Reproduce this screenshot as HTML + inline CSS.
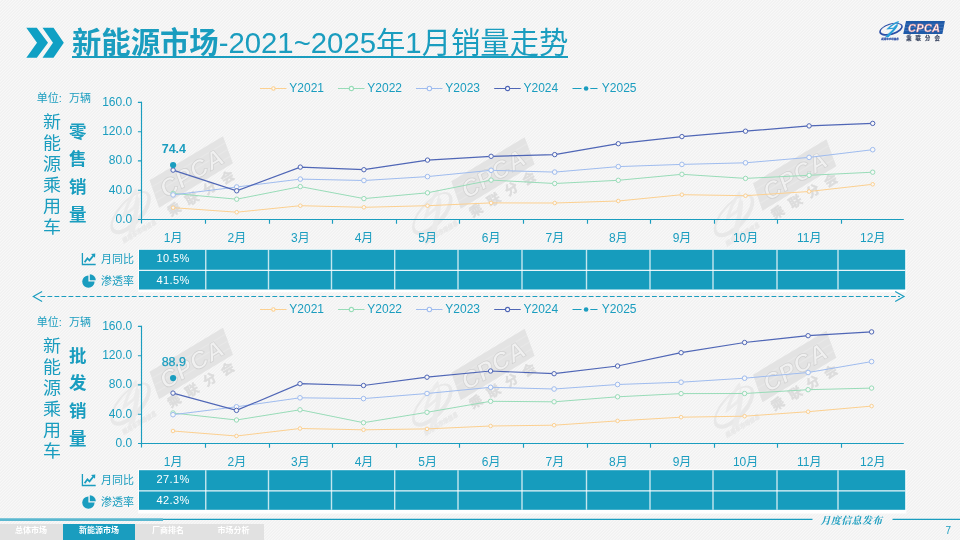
<!DOCTYPE html>
<html lang="zh-CN"><head><meta charset="utf-8"><title>新能源市场-2021~2025年1月销量走势</title>
<style>
html,body{margin:0;padding:0}
body{width:960px;height:540px;overflow:hidden;position:relative;font-family:"Liberation Sans","Noto Sans CJK SC",sans-serif;
background:#f4f4f4;}
#main{position:absolute;left:0;top:0;width:960px;height:540px;font-family:"Liberation Sans","Noto Sans CJK SC",sans-serif}
.title{position:absolute;left:72px;top:22.5px;height:33.5px;line-height:40px;font-size:29.33px;color:#1a9dbf;white-space:nowrap;border-bottom:2px solid #1a9dbf}
.title b{font-weight:bold}
.navbg{position:absolute;left:0;top:524px;width:264px;height:16px;background:#e1e1e1}
.nav{position:absolute;top:524px;height:16px;line-height:13px;font-size:8px;font-weight:bold;color:#fff;text-align:center;white-space:nowrap}
.nav.on{background:#1a9dbf}
.foot{position:absolute;left:820.5px;top:514px;line-height:14px;font-family:"Liberation Serif","Noto Serif CJK SC",serif;font-style:italic;font-weight:bold;font-size:10px;color:#1a9dbf;letter-spacing:0.35px;white-space:nowrap}
.vt{position:absolute;writing-mode:vertical-rl;font-size:17px;line-height:17px;width:17px;color:#1a9dbf;white-space:nowrap;transform-origin:0 0}
.pg{position:absolute;left:945.5px;top:525px;line-height:12px;font-size:10px;color:#1a9dbf}
</style></head><body>
<svg id="main" width="960" height="540" viewBox="0 0 960 540">
<defs><pattern id="bg" width="3" height="3" patternUnits="userSpaceOnUse" shape-rendering="crispEdges">
<rect width="3" height="3" fill="#f4f4f4"/>
<path d="M0 0h1v1h-1zM2 1h1v1h-1zM1 2h1v1h-1z" fill="#f8f8f8"/>
<path d="M2 0h1v1h-1zM1 1h1v1h-1zM0 2h1v1h-1z" fill="#f1f1f1"/>
</pattern></defs>
<rect width="960" height="540" fill="url(#bg)"/>
<path d="M26.3 27.8H36.8L48 42.8 36.8 57.8H26.3L37 42.8Z" fill="#0fa0c4"/>
<path d="M42.5 27.8H53.5L63.8 42.8 53.5 57.8H42.5L53 42.8Z" fill="#0fa0c4"/>
<g transform="translate(93.7 211.0) rotate(-31) scale(2.2)">
<path d="M29 1.1H67.9L65.4 14H26.25Z" fill="#e3e3e3"/>
<path d="M28.5 4.2H67.2M27.8 7.4H66.6M27.2 10.6H66" stroke="#e8e8e8" stroke-width="0.5" fill="none"/>
<text x="31" y="11.9" font-size="11" font-style="italic" font-weight="bold" letter-spacing="0.3" fill="#f0f0f0" stroke="#d0d0d0" stroke-width="0.3">CPCA</text>
<text x="28.8" y="20.3" font-size="5.9" font-weight="bold" letter-spacing="3.5" fill="#dcdcdc" stroke="#dcdcdc" stroke-width="0.2">乘联分会</text>
<path transform="rotate(-17 14 9.3)" fill-rule="evenodd" d="M1.8 9.3a12.2 5.7 0 1 0 24.4 0a12.2 5.7 0 1 0 -24.4 0ZM3.5 8.8a10.7 4.3 0 1 0 21.4 0a10.7 4.3 0 1 0 -21.4 0Z" fill="#e8e8e8"/>
<path d="M21.9 1C17.5 2.2 12.5 6 9.2 9.6L17.6 8.7L17.9 7.4L12.8 8C15.5 5.6 18.6 3.6 21.4 2.6C19.8 4.6 18 6.3 16.3 7.6L18.4 7.6C20.2 5.8 21.6 3.6 21.9 1Z" fill="#ebebeb"/>
<path d="M19.2 4.8C17 9 12.5 12.5 7.8 17.3L11.6 17.3C15 12.8 19 9.5 21 5.5Z" fill="#ebebeb"/>
<text x="4" y="19.6" font-size="2.8" font-style="italic" font-weight="bold" fill="#e8e8e8" stroke="#e8e8e8" stroke-width="0.15" textLength="17.6" lengthAdjust="spacingAndGlyphs">乘用车市场信息</text>
</g>
<g transform="translate(395.4 212.0) rotate(-31) scale(2.2)">
<path d="M29 1.1H67.9L65.4 14H26.25Z" fill="#e3e3e3"/>
<path d="M28.5 4.2H67.2M27.8 7.4H66.6M27.2 10.6H66" stroke="#e8e8e8" stroke-width="0.5" fill="none"/>
<text x="31" y="11.9" font-size="11" font-style="italic" font-weight="bold" letter-spacing="0.3" fill="#f0f0f0" stroke="#d0d0d0" stroke-width="0.3">CPCA</text>
<text x="28.8" y="20.3" font-size="5.9" font-weight="bold" letter-spacing="3.5" fill="#dcdcdc" stroke="#dcdcdc" stroke-width="0.2">乘联分会</text>
<path transform="rotate(-17 14 9.3)" fill-rule="evenodd" d="M1.8 9.3a12.2 5.7 0 1 0 24.4 0a12.2 5.7 0 1 0 -24.4 0ZM3.5 8.8a10.7 4.3 0 1 0 21.4 0a10.7 4.3 0 1 0 -21.4 0Z" fill="#e8e8e8"/>
<path d="M21.9 1C17.5 2.2 12.5 6 9.2 9.6L17.6 8.7L17.9 7.4L12.8 8C15.5 5.6 18.6 3.6 21.4 2.6C19.8 4.6 18 6.3 16.3 7.6L18.4 7.6C20.2 5.8 21.6 3.6 21.9 1Z" fill="#ebebeb"/>
<path d="M19.2 4.8C17 9 12.5 12.5 7.8 17.3L11.6 17.3C15 12.8 19 9.5 21 5.5Z" fill="#ebebeb"/>
<text x="4" y="19.6" font-size="2.8" font-style="italic" font-weight="bold" fill="#e8e8e8" stroke="#e8e8e8" stroke-width="0.15" textLength="17.6" lengthAdjust="spacingAndGlyphs">乘用车市场信息</text>
</g>
<g transform="translate(697.1 214.0) rotate(-31) scale(2.2)">
<path d="M29 1.1H67.9L65.4 14H26.25Z" fill="#e3e3e3"/>
<path d="M28.5 4.2H67.2M27.8 7.4H66.6M27.2 10.6H66" stroke="#e8e8e8" stroke-width="0.5" fill="none"/>
<text x="31" y="11.9" font-size="11" font-style="italic" font-weight="bold" letter-spacing="0.3" fill="#f0f0f0" stroke="#d0d0d0" stroke-width="0.3">CPCA</text>
<text x="28.8" y="20.3" font-size="5.9" font-weight="bold" letter-spacing="3.5" fill="#dcdcdc" stroke="#dcdcdc" stroke-width="0.2">乘联分会</text>
<path transform="rotate(-17 14 9.3)" fill-rule="evenodd" d="M1.8 9.3a12.2 5.7 0 1 0 24.4 0a12.2 5.7 0 1 0 -24.4 0ZM3.5 8.8a10.7 4.3 0 1 0 21.4 0a10.7 4.3 0 1 0 -21.4 0Z" fill="#e8e8e8"/>
<path d="M21.9 1C17.5 2.2 12.5 6 9.2 9.6L17.6 8.7L17.9 7.4L12.8 8C15.5 5.6 18.6 3.6 21.4 2.6C19.8 4.6 18 6.3 16.3 7.6L18.4 7.6C20.2 5.8 21.6 3.6 21.9 1Z" fill="#ebebeb"/>
<path d="M19.2 4.8C17 9 12.5 12.5 7.8 17.3L11.6 17.3C15 12.8 19 9.5 21 5.5Z" fill="#ebebeb"/>
<text x="4" y="19.6" font-size="2.8" font-style="italic" font-weight="bold" fill="#e8e8e8" stroke="#e8e8e8" stroke-width="0.15" textLength="17.6" lengthAdjust="spacingAndGlyphs">乘用车市场信息</text>
</g>
<g transform="translate(93.7 402.5) rotate(-31) scale(2.2)">
<path d="M29 1.1H67.9L65.4 14H26.25Z" fill="#e3e3e3"/>
<path d="M28.5 4.2H67.2M27.8 7.4H66.6M27.2 10.6H66" stroke="#e8e8e8" stroke-width="0.5" fill="none"/>
<text x="31" y="11.9" font-size="11" font-style="italic" font-weight="bold" letter-spacing="0.3" fill="#f0f0f0" stroke="#d0d0d0" stroke-width="0.3">CPCA</text>
<text x="28.8" y="20.3" font-size="5.9" font-weight="bold" letter-spacing="3.5" fill="#dcdcdc" stroke="#dcdcdc" stroke-width="0.2">乘联分会</text>
<path transform="rotate(-17 14 9.3)" fill-rule="evenodd" d="M1.8 9.3a12.2 5.7 0 1 0 24.4 0a12.2 5.7 0 1 0 -24.4 0ZM3.5 8.8a10.7 4.3 0 1 0 21.4 0a10.7 4.3 0 1 0 -21.4 0Z" fill="#e8e8e8"/>
<path d="M21.9 1C17.5 2.2 12.5 6 9.2 9.6L17.6 8.7L17.9 7.4L12.8 8C15.5 5.6 18.6 3.6 21.4 2.6C19.8 4.6 18 6.3 16.3 7.6L18.4 7.6C20.2 5.8 21.6 3.6 21.9 1Z" fill="#ebebeb"/>
<path d="M19.2 4.8C17 9 12.5 12.5 7.8 17.3L11.6 17.3C15 12.8 19 9.5 21 5.5Z" fill="#ebebeb"/>
<text x="4" y="19.6" font-size="2.8" font-style="italic" font-weight="bold" fill="#e8e8e8" stroke="#e8e8e8" stroke-width="0.15" textLength="17.6" lengthAdjust="spacingAndGlyphs">乘用车市场信息</text>
</g>
<g transform="translate(395.4 403.5) rotate(-31) scale(2.2)">
<path d="M29 1.1H67.9L65.4 14H26.25Z" fill="#e3e3e3"/>
<path d="M28.5 4.2H67.2M27.8 7.4H66.6M27.2 10.6H66" stroke="#e8e8e8" stroke-width="0.5" fill="none"/>
<text x="31" y="11.9" font-size="11" font-style="italic" font-weight="bold" letter-spacing="0.3" fill="#f0f0f0" stroke="#d0d0d0" stroke-width="0.3">CPCA</text>
<text x="28.8" y="20.3" font-size="5.9" font-weight="bold" letter-spacing="3.5" fill="#dcdcdc" stroke="#dcdcdc" stroke-width="0.2">乘联分会</text>
<path transform="rotate(-17 14 9.3)" fill-rule="evenodd" d="M1.8 9.3a12.2 5.7 0 1 0 24.4 0a12.2 5.7 0 1 0 -24.4 0ZM3.5 8.8a10.7 4.3 0 1 0 21.4 0a10.7 4.3 0 1 0 -21.4 0Z" fill="#e8e8e8"/>
<path d="M21.9 1C17.5 2.2 12.5 6 9.2 9.6L17.6 8.7L17.9 7.4L12.8 8C15.5 5.6 18.6 3.6 21.4 2.6C19.8 4.6 18 6.3 16.3 7.6L18.4 7.6C20.2 5.8 21.6 3.6 21.9 1Z" fill="#ebebeb"/>
<path d="M19.2 4.8C17 9 12.5 12.5 7.8 17.3L11.6 17.3C15 12.8 19 9.5 21 5.5Z" fill="#ebebeb"/>
<text x="4" y="19.6" font-size="2.8" font-style="italic" font-weight="bold" fill="#e8e8e8" stroke="#e8e8e8" stroke-width="0.15" textLength="17.6" lengthAdjust="spacingAndGlyphs">乘用车市场信息</text>
</g>
<g transform="translate(697.1 405.5) rotate(-31) scale(2.2)">
<path d="M29 1.1H67.9L65.4 14H26.25Z" fill="#e3e3e3"/>
<path d="M28.5 4.2H67.2M27.8 7.4H66.6M27.2 10.6H66" stroke="#e8e8e8" stroke-width="0.5" fill="none"/>
<text x="31" y="11.9" font-size="11" font-style="italic" font-weight="bold" letter-spacing="0.3" fill="#f0f0f0" stroke="#d0d0d0" stroke-width="0.3">CPCA</text>
<text x="28.8" y="20.3" font-size="5.9" font-weight="bold" letter-spacing="3.5" fill="#dcdcdc" stroke="#dcdcdc" stroke-width="0.2">乘联分会</text>
<path transform="rotate(-17 14 9.3)" fill-rule="evenodd" d="M1.8 9.3a12.2 5.7 0 1 0 24.4 0a12.2 5.7 0 1 0 -24.4 0ZM3.5 8.8a10.7 4.3 0 1 0 21.4 0a10.7 4.3 0 1 0 -21.4 0Z" fill="#e8e8e8"/>
<path d="M21.9 1C17.5 2.2 12.5 6 9.2 9.6L17.6 8.7L17.9 7.4L12.8 8C15.5 5.6 18.6 3.6 21.4 2.6C19.8 4.6 18 6.3 16.3 7.6L18.4 7.6C20.2 5.8 21.6 3.6 21.9 1Z" fill="#ebebeb"/>
<path d="M19.2 4.8C17 9 12.5 12.5 7.8 17.3L11.6 17.3C15 12.8 19 9.5 21 5.5Z" fill="#ebebeb"/>
<text x="4" y="19.6" font-size="2.8" font-style="italic" font-weight="bold" fill="#e8e8e8" stroke="#e8e8e8" stroke-width="0.15" textLength="17.6" lengthAdjust="spacingAndGlyphs">乘用车市场信息</text>
</g>
<path d="M260 88.5h26.5" stroke="#fcd090" stroke-width="1.0"/>
<circle cx="273.4" cy="88.5" r="1.7" fill="#fbfbfb" stroke="#fcd090" stroke-width="1.1"/>
<text x="289.3" y="91.9" font-size="12" fill="#1a9dbf">Y2021</text>
<path d="M338 88.5h26.5" stroke="#98dcb8" stroke-width="1.0"/>
<circle cx="351.4" cy="88.5" r="2.1" fill="#fbfbfb" stroke="#98dcb8" stroke-width="1.1"/>
<text x="367.3" y="91.9" font-size="12" fill="#1a9dbf">Y2022</text>
<path d="M416 88.5h26.5" stroke="#9fbcef" stroke-width="1.0"/>
<circle cx="429.4" cy="88.5" r="2.1999999999999997" fill="#fbfbfb" stroke="#9fbcef" stroke-width="1.1"/>
<text x="445.3" y="91.9" font-size="12" fill="#1a9dbf">Y2023</text>
<path d="M494.2 88.5h26.5" stroke="#4f66b6" stroke-width="1.0"/>
<circle cx="507.59999999999997" cy="88.5" r="2.1" fill="#fbfbfb" stroke="#4f66b6" stroke-width="1.1"/>
<text x="523.5" y="91.9" font-size="12" fill="#1a9dbf">Y2024</text>
<path d="M572.5 88.5h9M590.3 88.5h7.2" stroke="#1a9dbf" stroke-width="1.1"/>
<circle cx="586.1" cy="88.5" r="2.3" fill="#1a9dbf"/>
<text x="601.8" y="91.9" font-size="12" fill="#1a9dbf">Y2025</text>
<path d="M141.5 101.80000000000001V223.5M138.0 219.5H903.8" fill="none" stroke="#1a9dbf" stroke-width="1.15"/>
<path d="M137.9 190.2H141.5M137.9 160.9H141.5M137.9 131.7H141.5M137.9 102.4H141.5M205.5 219.5v4.3M269.5 219.5v4.3M332.5 219.5v4.3M396.5 219.5v4.3M459.5 219.5v4.3M523.5 219.5v4.3M587.5 219.5v4.3M650.5 219.5v4.3M714.5 219.5v4.3M777.5 219.5v4.3M841.5 219.5v4.3" fill="none" stroke="#1a9dbf" stroke-width="1.15"/>
<polyline points="173.1,207.7 236.7,212.2 300.3,205.7 363.9,207.3 427.5,205.7 491.1,202.9 554.7,203.0 618.3,201.0 681.9,194.7 745.5,195.7 809.1,191.5 872.7,184.3" fill="none" stroke="#fcd090" stroke-width="1.0"/>
<circle cx="173.1" cy="207.7" r="1.8" fill="#f8f8f8" stroke="#fcd090" stroke-width="1"/>
<circle cx="236.7" cy="212.2" r="1.8" fill="#f8f8f8" stroke="#fcd090" stroke-width="1"/>
<circle cx="300.3" cy="205.7" r="1.8" fill="#f8f8f8" stroke="#fcd090" stroke-width="1"/>
<circle cx="363.9" cy="207.3" r="1.8" fill="#f8f8f8" stroke="#fcd090" stroke-width="1"/>
<circle cx="427.5" cy="205.7" r="1.8" fill="#f8f8f8" stroke="#fcd090" stroke-width="1"/>
<circle cx="491.1" cy="202.9" r="1.8" fill="#f8f8f8" stroke="#fcd090" stroke-width="1"/>
<circle cx="554.7" cy="203.0" r="1.8" fill="#f8f8f8" stroke="#fcd090" stroke-width="1"/>
<circle cx="618.3" cy="201.0" r="1.8" fill="#f8f8f8" stroke="#fcd090" stroke-width="1"/>
<circle cx="681.9" cy="194.7" r="1.8" fill="#f8f8f8" stroke="#fcd090" stroke-width="1"/>
<circle cx="745.5" cy="195.7" r="1.8" fill="#f8f8f8" stroke="#fcd090" stroke-width="1"/>
<circle cx="809.1" cy="191.5" r="1.8" fill="#f8f8f8" stroke="#fcd090" stroke-width="1"/>
<circle cx="872.7" cy="184.3" r="1.8" fill="#f8f8f8" stroke="#fcd090" stroke-width="1"/>
<polyline points="173.1,193.4 236.7,199.2 300.3,186.6 363.9,198.6 427.5,192.8 491.1,180.1 554.7,183.5 618.3,180.3 681.9,174.3 745.5,178.4 809.1,175.3 872.7,172.2" fill="none" stroke="#98dcb8" stroke-width="1.0"/>
<circle cx="173.1" cy="193.4" r="2.2" fill="#f8f8f8" stroke="#98dcb8" stroke-width="1"/>
<circle cx="236.7" cy="199.2" r="2.2" fill="#f8f8f8" stroke="#98dcb8" stroke-width="1"/>
<circle cx="300.3" cy="186.6" r="2.2" fill="#f8f8f8" stroke="#98dcb8" stroke-width="1"/>
<circle cx="363.9" cy="198.6" r="2.2" fill="#f8f8f8" stroke="#98dcb8" stroke-width="1"/>
<circle cx="427.5" cy="192.8" r="2.2" fill="#f8f8f8" stroke="#98dcb8" stroke-width="1"/>
<circle cx="491.1" cy="180.1" r="2.2" fill="#f8f8f8" stroke="#98dcb8" stroke-width="1"/>
<circle cx="554.7" cy="183.5" r="2.2" fill="#f8f8f8" stroke="#98dcb8" stroke-width="1"/>
<circle cx="618.3" cy="180.3" r="2.2" fill="#f8f8f8" stroke="#98dcb8" stroke-width="1"/>
<circle cx="681.9" cy="174.3" r="2.2" fill="#f8f8f8" stroke="#98dcb8" stroke-width="1"/>
<circle cx="745.5" cy="178.4" r="2.2" fill="#f8f8f8" stroke="#98dcb8" stroke-width="1"/>
<circle cx="809.1" cy="175.3" r="2.2" fill="#f8f8f8" stroke="#98dcb8" stroke-width="1"/>
<circle cx="872.7" cy="172.2" r="2.2" fill="#f8f8f8" stroke="#98dcb8" stroke-width="1"/>
<polyline points="173.1,194.9 236.7,187.0 300.3,179.1 363.9,180.5 427.5,176.6 491.1,170.3 554.7,172.1 618.3,166.6 681.9,164.4 745.5,162.8 809.1,157.4 872.7,149.7" fill="none" stroke="#9fbcef" stroke-width="1.0"/>
<circle cx="173.1" cy="194.9" r="2.3" fill="#f8f8f8" stroke="#9fbcef" stroke-width="1"/>
<circle cx="236.7" cy="187.0" r="2.3" fill="#f8f8f8" stroke="#9fbcef" stroke-width="1"/>
<circle cx="300.3" cy="179.1" r="2.3" fill="#f8f8f8" stroke="#9fbcef" stroke-width="1"/>
<circle cx="363.9" cy="180.5" r="2.3" fill="#f8f8f8" stroke="#9fbcef" stroke-width="1"/>
<circle cx="427.5" cy="176.6" r="2.3" fill="#f8f8f8" stroke="#9fbcef" stroke-width="1"/>
<circle cx="491.1" cy="170.3" r="2.3" fill="#f8f8f8" stroke="#9fbcef" stroke-width="1"/>
<circle cx="554.7" cy="172.1" r="2.3" fill="#f8f8f8" stroke="#9fbcef" stroke-width="1"/>
<circle cx="618.3" cy="166.6" r="2.3" fill="#f8f8f8" stroke="#9fbcef" stroke-width="1"/>
<circle cx="681.9" cy="164.4" r="2.3" fill="#f8f8f8" stroke="#9fbcef" stroke-width="1"/>
<circle cx="745.5" cy="162.8" r="2.3" fill="#f8f8f8" stroke="#9fbcef" stroke-width="1"/>
<circle cx="809.1" cy="157.4" r="2.3" fill="#f8f8f8" stroke="#9fbcef" stroke-width="1"/>
<circle cx="872.7" cy="149.7" r="2.3" fill="#f8f8f8" stroke="#9fbcef" stroke-width="1"/>
<polyline points="173.1,170.1 236.7,190.8 300.3,167.1 363.9,169.7 427.5,160.1 491.1,156.3 554.7,154.6 618.3,143.7 681.9,136.6 745.5,131.2 809.1,125.9 872.7,123.4" fill="none" stroke="#4f66b6" stroke-width="1.2"/>
<circle cx="173.1" cy="170.1" r="2.2" fill="#f8f8f8" stroke="#4f66b6" stroke-width="1"/>
<circle cx="236.7" cy="190.8" r="2.2" fill="#f8f8f8" stroke="#4f66b6" stroke-width="1"/>
<circle cx="300.3" cy="167.1" r="2.2" fill="#f8f8f8" stroke="#4f66b6" stroke-width="1"/>
<circle cx="363.9" cy="169.7" r="2.2" fill="#f8f8f8" stroke="#4f66b6" stroke-width="1"/>
<circle cx="427.5" cy="160.1" r="2.2" fill="#f8f8f8" stroke="#4f66b6" stroke-width="1"/>
<circle cx="491.1" cy="156.3" r="2.2" fill="#f8f8f8" stroke="#4f66b6" stroke-width="1"/>
<circle cx="554.7" cy="154.6" r="2.2" fill="#f8f8f8" stroke="#4f66b6" stroke-width="1"/>
<circle cx="618.3" cy="143.7" r="2.2" fill="#f8f8f8" stroke="#4f66b6" stroke-width="1"/>
<circle cx="681.9" cy="136.6" r="2.2" fill="#f8f8f8" stroke="#4f66b6" stroke-width="1"/>
<circle cx="745.5" cy="131.2" r="2.2" fill="#f8f8f8" stroke="#4f66b6" stroke-width="1"/>
<circle cx="809.1" cy="125.9" r="2.2" fill="#f8f8f8" stroke="#4f66b6" stroke-width="1"/>
<circle cx="872.7" cy="123.4" r="2.2" fill="#f8f8f8" stroke="#4f66b6" stroke-width="1"/>
<circle cx="173.1" cy="165.0" r="3.1" fill="#1a9dbf"/>
<text x="173.9" y="152.8" text-anchor="middle" font-size="12.5" font-weight="bold" fill="#1a9dbf">74.4</text>
<text x="132.2" y="222.8" text-anchor="end" font-size="12" fill="#1a9dbf">0.0</text>
<text x="132.2" y="193.5" text-anchor="end" font-size="12" fill="#1a9dbf">40.0</text>
<text x="132.2" y="164.2" text-anchor="end" font-size="12" fill="#1a9dbf">80.0</text>
<text x="132.2" y="135.0" text-anchor="end" font-size="12" fill="#1a9dbf">120.0</text>
<text x="132.2" y="105.7" text-anchor="end" font-size="12" fill="#1a9dbf">160.0</text>
<text x="173.2" y="241.8" text-anchor="middle" font-size="12" fill="#1a9dbf">1月</text>
<text x="236.8" y="241.8" text-anchor="middle" font-size="12" fill="#1a9dbf">2月</text>
<text x="300.4" y="241.8" text-anchor="middle" font-size="12" fill="#1a9dbf">3月</text>
<text x="364.0" y="241.8" text-anchor="middle" font-size="12" fill="#1a9dbf">4月</text>
<text x="427.6" y="241.8" text-anchor="middle" font-size="12" fill="#1a9dbf">5月</text>
<text x="491.2" y="241.8" text-anchor="middle" font-size="12" fill="#1a9dbf">6月</text>
<text x="554.8" y="241.8" text-anchor="middle" font-size="12" fill="#1a9dbf">7月</text>
<text x="618.4" y="241.8" text-anchor="middle" font-size="12" fill="#1a9dbf">8月</text>
<text x="682.0" y="241.8" text-anchor="middle" font-size="12" fill="#1a9dbf">9月</text>
<text x="745.6" y="241.8" text-anchor="middle" font-size="12" fill="#1a9dbf">10月</text>
<text x="809.2" y="241.8" text-anchor="middle" font-size="12" fill="#1a9dbf">11月</text>
<text x="872.8" y="241.8" text-anchor="middle" font-size="12" fill="#1a9dbf">12月</text>
<rect x="138.2" y="248.9" width="768.2" height="43.4" fill="#ffffff"/>
<rect x="139" y="249.8" width="766.2" height="39.7" fill="#169cbd"/>
<path d="M139 270.4H905.2" stroke="#fff" stroke-opacity="0.9" stroke-width="1.4"/>
<path d="M205.75 249.8V289.5M268.5 249.8V289.5M331.5 249.8V289.5M394.7 249.8V289.5M458 249.8V289.5M522 249.8V289.5M586.5 249.8V289.5M650 249.8V289.5M713 249.8V289.5M777 249.8V289.5M838 249.8V289.5" stroke="#fff" stroke-opacity="0.75" stroke-width="1.4" fill="none"/>
<text x="173.1" y="262" text-anchor="middle" font-size="11" letter-spacing="0.35" fill="#fff">10.5%</text>
<text x="173.1" y="284.2" text-anchor="middle" font-size="11" letter-spacing="0.35" fill="#fff">41.5%</text>
<path d="M82.4 253.1V264.5H95.7" fill="none" stroke="#1a9dbf" stroke-width="1.3"/>
<path d="M84.6 262.3L87.4 258.4 89.5 260.4 93.4 255.5" fill="none" stroke="#1a9dbf" stroke-width="1.7"/>
<path d="M91 253.9L95.3 253.5L95 257.8Z" fill="#1a9dbf"/>
<text x="101" y="262.9" font-size="11" fill="#1a9dbf">月同比</text>
<path d="M88.4 275.40000000000003A6.2 6.2 0 1 0 94.6 281.6H88.4Z" fill="#1a9dbf"/>
<path d="M89.8 274.20000000000005A6 6 0 0 1 95.8 280.20000000000005H89.8Z" fill="#1a9dbf"/>
<text x="101" y="284.8" font-size="11" fill="#1a9dbf">渗透率</text>
<text x="36.8" y="101.9" font-size="11" fill="#1a9dbf">单位: <tspan x="69">万辆</tspan></text>
<path d="M40.4 296.5H900" stroke="#1a9dbf" stroke-width="1.15" stroke-dasharray="4.8 2.23" fill="none"/>
<path d="M42.1 291.6l-8.8 4.9 8.8 4.9M895.2 291.6l8.8 4.9-8.8 4.9" stroke="#1a9dbf" stroke-width="1.15" fill="none"/>
<path d="M260 309.5h26.5" stroke="#fcd090" stroke-width="1.0"/>
<circle cx="273.4" cy="309.5" r="1.7" fill="#fbfbfb" stroke="#fcd090" stroke-width="1.1"/>
<text x="289.3" y="312.9" font-size="12" fill="#1a9dbf">Y2021</text>
<path d="M338 309.5h26.5" stroke="#98dcb8" stroke-width="1.0"/>
<circle cx="351.4" cy="309.5" r="2.1" fill="#fbfbfb" stroke="#98dcb8" stroke-width="1.1"/>
<text x="367.3" y="312.9" font-size="12" fill="#1a9dbf">Y2022</text>
<path d="M416 309.5h26.5" stroke="#9fbcef" stroke-width="1.0"/>
<circle cx="429.4" cy="309.5" r="2.1999999999999997" fill="#fbfbfb" stroke="#9fbcef" stroke-width="1.1"/>
<text x="445.3" y="312.9" font-size="12" fill="#1a9dbf">Y2023</text>
<path d="M494.2 309.5h26.5" stroke="#4f66b6" stroke-width="1.0"/>
<circle cx="507.59999999999997" cy="309.5" r="2.1" fill="#fbfbfb" stroke="#4f66b6" stroke-width="1.1"/>
<text x="523.5" y="312.9" font-size="12" fill="#1a9dbf">Y2024</text>
<path d="M572.5 309.5h9M590.3 309.5h7.2" stroke="#1a9dbf" stroke-width="1.1"/>
<circle cx="586.1" cy="309.5" r="2.3" fill="#1a9dbf"/>
<text x="601.8" y="312.9" font-size="12" fill="#1a9dbf">Y2025</text>
<path d="M141.5 325.79999999999995V447.5M138.0 443.5H903.8" fill="none" stroke="#1a9dbf" stroke-width="1.15"/>
<path d="M137.9 414.2H141.5M137.9 384.9H141.5M137.9 355.7H141.5M137.9 326.4H141.5M205.5 443.5v4.3M269.5 443.5v4.3M332.5 443.5v4.3M396.5 443.5v4.3M459.5 443.5v4.3M523.5 443.5v4.3M587.5 443.5v4.3M650.5 443.5v4.3M714.5 443.5v4.3M777.5 443.5v4.3M841.5 443.5v4.3" fill="none" stroke="#1a9dbf" stroke-width="1.15"/>
<polyline points="173.0,431.0 236.5,436.0 300.0,428.5 363.5,429.8 427.0,428.9 490.6,426.0 554.1,425.2 617.6,420.9 681.1,417.2 744.6,416.2 808.1,411.7 871.6,406.1" fill="none" stroke="#fcd090" stroke-width="1.0"/>
<circle cx="173.0" cy="431.0" r="1.8" fill="#f8f8f8" stroke="#fcd090" stroke-width="1"/>
<circle cx="236.5" cy="436.0" r="1.8" fill="#f8f8f8" stroke="#fcd090" stroke-width="1"/>
<circle cx="300.0" cy="428.5" r="1.8" fill="#f8f8f8" stroke="#fcd090" stroke-width="1"/>
<circle cx="363.5" cy="429.8" r="1.8" fill="#f8f8f8" stroke="#fcd090" stroke-width="1"/>
<circle cx="427.0" cy="428.9" r="1.8" fill="#f8f8f8" stroke="#fcd090" stroke-width="1"/>
<circle cx="490.6" cy="426.0" r="1.8" fill="#f8f8f8" stroke="#fcd090" stroke-width="1"/>
<circle cx="554.1" cy="425.2" r="1.8" fill="#f8f8f8" stroke="#fcd090" stroke-width="1"/>
<circle cx="617.6" cy="420.9" r="1.8" fill="#f8f8f8" stroke="#fcd090" stroke-width="1"/>
<circle cx="681.1" cy="417.2" r="1.8" fill="#f8f8f8" stroke="#fcd090" stroke-width="1"/>
<circle cx="744.6" cy="416.2" r="1.8" fill="#f8f8f8" stroke="#fcd090" stroke-width="1"/>
<circle cx="808.1" cy="411.7" r="1.8" fill="#f8f8f8" stroke="#fcd090" stroke-width="1"/>
<circle cx="871.6" cy="406.1" r="1.8" fill="#f8f8f8" stroke="#fcd090" stroke-width="1"/>
<polyline points="173.0,413.0 236.5,420.0 300.0,409.8 363.5,422.7 427.0,412.3 490.6,401.3 554.1,401.8 617.6,396.8 681.1,393.6 744.6,393.5 808.1,389.7 871.6,388.1" fill="none" stroke="#98dcb8" stroke-width="1.0"/>
<circle cx="173.0" cy="413.0" r="2.2" fill="#f8f8f8" stroke="#98dcb8" stroke-width="1"/>
<circle cx="236.5" cy="420.0" r="2.2" fill="#f8f8f8" stroke="#98dcb8" stroke-width="1"/>
<circle cx="300.0" cy="409.8" r="2.2" fill="#f8f8f8" stroke="#98dcb8" stroke-width="1"/>
<circle cx="363.5" cy="422.7" r="2.2" fill="#f8f8f8" stroke="#98dcb8" stroke-width="1"/>
<circle cx="427.0" cy="412.3" r="2.2" fill="#f8f8f8" stroke="#98dcb8" stroke-width="1"/>
<circle cx="490.6" cy="401.3" r="2.2" fill="#f8f8f8" stroke="#98dcb8" stroke-width="1"/>
<circle cx="554.1" cy="401.8" r="2.2" fill="#f8f8f8" stroke="#98dcb8" stroke-width="1"/>
<circle cx="617.6" cy="396.8" r="2.2" fill="#f8f8f8" stroke="#98dcb8" stroke-width="1"/>
<circle cx="681.1" cy="393.6" r="2.2" fill="#f8f8f8" stroke="#98dcb8" stroke-width="1"/>
<circle cx="744.6" cy="393.5" r="2.2" fill="#f8f8f8" stroke="#98dcb8" stroke-width="1"/>
<circle cx="808.1" cy="389.7" r="2.2" fill="#f8f8f8" stroke="#98dcb8" stroke-width="1"/>
<circle cx="871.6" cy="388.1" r="2.2" fill="#f8f8f8" stroke="#98dcb8" stroke-width="1"/>
<polyline points="173.0,414.7 236.5,406.8 300.0,397.8 363.5,398.6 427.0,393.5 490.6,387.3 554.1,389.0 617.6,384.5 681.1,382.2 744.6,378.2 808.1,372.5 871.6,361.6" fill="none" stroke="#9fbcef" stroke-width="1.0"/>
<circle cx="173.0" cy="414.7" r="2.3" fill="#f8f8f8" stroke="#9fbcef" stroke-width="1"/>
<circle cx="236.5" cy="406.8" r="2.3" fill="#f8f8f8" stroke="#9fbcef" stroke-width="1"/>
<circle cx="300.0" cy="397.8" r="2.3" fill="#f8f8f8" stroke="#9fbcef" stroke-width="1"/>
<circle cx="363.5" cy="398.6" r="2.3" fill="#f8f8f8" stroke="#9fbcef" stroke-width="1"/>
<circle cx="427.0" cy="393.5" r="2.3" fill="#f8f8f8" stroke="#9fbcef" stroke-width="1"/>
<circle cx="490.6" cy="387.3" r="2.3" fill="#f8f8f8" stroke="#9fbcef" stroke-width="1"/>
<circle cx="554.1" cy="389.0" r="2.3" fill="#f8f8f8" stroke="#9fbcef" stroke-width="1"/>
<circle cx="617.6" cy="384.5" r="2.3" fill="#f8f8f8" stroke="#9fbcef" stroke-width="1"/>
<circle cx="681.1" cy="382.2" r="2.3" fill="#f8f8f8" stroke="#9fbcef" stroke-width="1"/>
<circle cx="744.6" cy="378.2" r="2.3" fill="#f8f8f8" stroke="#9fbcef" stroke-width="1"/>
<circle cx="808.1" cy="372.5" r="2.3" fill="#f8f8f8" stroke="#9fbcef" stroke-width="1"/>
<circle cx="871.6" cy="361.6" r="2.3" fill="#f8f8f8" stroke="#9fbcef" stroke-width="1"/>
<polyline points="173.0,393.1 236.5,410.4 300.0,383.7 363.5,385.5 427.0,377.2 490.6,371.0 554.1,373.7 617.6,366.0 681.1,352.7 744.6,342.5 808.1,335.7 871.6,331.9" fill="none" stroke="#4f66b6" stroke-width="1.2"/>
<circle cx="173.0" cy="393.1" r="2.2" fill="#f8f8f8" stroke="#4f66b6" stroke-width="1"/>
<circle cx="236.5" cy="410.4" r="2.2" fill="#f8f8f8" stroke="#4f66b6" stroke-width="1"/>
<circle cx="300.0" cy="383.7" r="2.2" fill="#f8f8f8" stroke="#4f66b6" stroke-width="1"/>
<circle cx="363.5" cy="385.5" r="2.2" fill="#f8f8f8" stroke="#4f66b6" stroke-width="1"/>
<circle cx="427.0" cy="377.2" r="2.2" fill="#f8f8f8" stroke="#4f66b6" stroke-width="1"/>
<circle cx="490.6" cy="371.0" r="2.2" fill="#f8f8f8" stroke="#4f66b6" stroke-width="1"/>
<circle cx="554.1" cy="373.7" r="2.2" fill="#f8f8f8" stroke="#4f66b6" stroke-width="1"/>
<circle cx="617.6" cy="366.0" r="2.2" fill="#f8f8f8" stroke="#4f66b6" stroke-width="1"/>
<circle cx="681.1" cy="352.7" r="2.2" fill="#f8f8f8" stroke="#4f66b6" stroke-width="1"/>
<circle cx="744.6" cy="342.5" r="2.2" fill="#f8f8f8" stroke="#4f66b6" stroke-width="1"/>
<circle cx="808.1" cy="335.7" r="2.2" fill="#f8f8f8" stroke="#4f66b6" stroke-width="1"/>
<circle cx="871.6" cy="331.9" r="2.2" fill="#f8f8f8" stroke="#4f66b6" stroke-width="1"/>
<circle cx="173.1" cy="378.1" r="3.1" fill="#1a9dbf"/>
<text x="173.8" y="365.9" text-anchor="middle" font-size="12.5" stroke="#1a9dbf" stroke-width="0.25" fill="#1a9dbf">88.9</text>
<text x="132.2" y="446.8" text-anchor="end" font-size="12" fill="#1a9dbf">0.0</text>
<text x="132.2" y="417.5" text-anchor="end" font-size="12" fill="#1a9dbf">40.0</text>
<text x="132.2" y="388.2" text-anchor="end" font-size="12" fill="#1a9dbf">80.0</text>
<text x="132.2" y="359.0" text-anchor="end" font-size="12" fill="#1a9dbf">120.0</text>
<text x="132.2" y="329.7" text-anchor="end" font-size="12" fill="#1a9dbf">160.0</text>
<text x="173.2" y="465.8" text-anchor="middle" font-size="12" fill="#1a9dbf">1月</text>
<text x="236.8" y="465.8" text-anchor="middle" font-size="12" fill="#1a9dbf">2月</text>
<text x="300.4" y="465.8" text-anchor="middle" font-size="12" fill="#1a9dbf">3月</text>
<text x="364.0" y="465.8" text-anchor="middle" font-size="12" fill="#1a9dbf">4月</text>
<text x="427.6" y="465.8" text-anchor="middle" font-size="12" fill="#1a9dbf">5月</text>
<text x="491.2" y="465.8" text-anchor="middle" font-size="12" fill="#1a9dbf">6月</text>
<text x="554.8" y="465.8" text-anchor="middle" font-size="12" fill="#1a9dbf">7月</text>
<text x="618.4" y="465.8" text-anchor="middle" font-size="12" fill="#1a9dbf">8月</text>
<text x="682.0" y="465.8" text-anchor="middle" font-size="12" fill="#1a9dbf">9月</text>
<text x="745.6" y="465.8" text-anchor="middle" font-size="12" fill="#1a9dbf">10月</text>
<text x="809.2" y="465.8" text-anchor="middle" font-size="12" fill="#1a9dbf">11月</text>
<text x="872.8" y="465.8" text-anchor="middle" font-size="12" fill="#1a9dbf">12月</text>
<rect x="138.2" y="469.3" width="768.2" height="44.2" fill="#ffffff"/>
<rect x="139" y="470.2" width="766.2" height="39.6" fill="#169cbd"/>
<path d="M139 490.9H905.2" stroke="#fff" stroke-opacity="0.9" stroke-width="1.4"/>
<path d="M205.75 470.2V509.8M268.5 470.2V509.8M331.5 470.2V509.8M394.7 470.2V509.8M458 470.2V509.8M522 470.2V509.8M586.5 470.2V509.8M650 470.2V509.8M713 470.2V509.8M777 470.2V509.8M838 470.2V509.8" stroke="#fff" stroke-opacity="0.75" stroke-width="1.4" fill="none"/>
<text x="173.1" y="483" text-anchor="middle" font-size="11" letter-spacing="0.35" fill="#fff">27.1%</text>
<text x="173.1" y="504" text-anchor="middle" font-size="11" letter-spacing="0.35" fill="#fff">42.3%</text>
<path d="M82.4 474.1V485.5H95.7" fill="none" stroke="#1a9dbf" stroke-width="1.3"/>
<path d="M84.6 483.3L87.4 479.4 89.5 481.4 93.4 476.5" fill="none" stroke="#1a9dbf" stroke-width="1.7"/>
<path d="M91 474.9L95.3 474.5L95 478.8Z" fill="#1a9dbf"/>
<text x="101" y="483.9" font-size="11" fill="#1a9dbf">月同比</text>
<path d="M88.4 496.40000000000003A6.2 6.2 0 1 0 94.6 502.6H88.4Z" fill="#1a9dbf"/>
<path d="M89.8 495.20000000000005A6 6 0 0 1 95.8 501.20000000000005H89.8Z" fill="#1a9dbf"/>
<text x="101" y="505.8" font-size="11" fill="#1a9dbf">渗透率</text>
<text x="36.8" y="325.9" font-size="11" fill="#1a9dbf">单位: <tspan x="69">万辆</tspan></text>
<path d="M0 519.6H163" stroke="#5bb8d0" stroke-width="2.6" fill="none"/>
<path d="M163 519.4H812.5M892.5 519.4H960" stroke="#1a9dbf" stroke-width="1.2" fill="none"/>
<g id="logo" transform="translate(877 20)">
<path d="M29 1.1H67.9L65.4 14H26.25Z" fill="#1f5aa8"/>
<path d="M28.5 4.2H67.2M27.8 7.4H66.6M27.2 10.6H66" stroke="#5d8cc8" stroke-width="0.5" fill="none"/>
<text x="31" y="11.9" font-size="11" font-style="italic" font-weight="bold" letter-spacing="0.3" fill="#fff3f0" stroke="#e8777b" stroke-width="0.3">CPCA</text>
<text x="29.2" y="20.3" font-size="5.3" font-weight="bold" letter-spacing="4.1" fill="#3a4662" stroke="#3a4662" stroke-width="0.2">乘联分会</text>
<path transform="rotate(-17 14 9.3)" fill-rule="evenodd" d="M1.8 9.3a12.2 5.7 0 1 0 24.4 0a12.2 5.7 0 1 0 -24.4 0ZM3.5 8.8a10.7 4.3 0 1 0 21.4 0a10.7 4.3 0 1 0 -21.4 0Z" fill="#2c4fa6"/>
<path d="M21.9 1C17.5 2.2 12.5 6 9.2 9.6L17.6 8.7L17.9 7.4L12.8 8C15.5 5.6 18.6 3.6 21.4 2.6C19.8 4.6 18 6.3 16.3 7.6L18.4 7.6C20.2 5.8 21.6 3.6 21.9 1Z" fill="#2a9fd8"/>
<path d="M19.2 4.8C17 9 12.5 12.5 7.8 17.3L11.6 17.3C15 12.8 19 9.5 21 5.5Z" fill="#2a9fd8"/>
<text x="4" y="19.6" font-size="2.8" font-style="italic" font-weight="bold" fill="#2c4fa6" stroke="#2c4fa6" stroke-width="0.15" textLength="17.6" lengthAdjust="spacingAndGlyphs">乘用车市场信息</text>
</g>
</svg>
<div class="title"><b>新能源市场</b>-2021~2025年1月销量走势</div>
<div class="vt" style="left:41.3px;top:113.2px;letter-spacing:4.65px;transform:scale(1.06,0.97)">新能源乘用车</div>
<div class="vt" style="left:67.4px;top:123.3px;letter-spacing:11.66px;font-weight:bold;transform:scale(1.03,0.97)">零售销量</div>
<div class="vt" style="left:41.3px;top:337.2px;letter-spacing:4.65px;transform:scale(1.06,0.97)">新能源乘用车</div>
<div class="vt" style="left:67.4px;top:347.3px;letter-spacing:11.66px;font-weight:bold;transform:scale(1.03,0.97)">批发销量</div>
<div class="navbg"></div>
<div class="nav" style="left:0;width:62px">总体市场</div>
<div class="nav on" style="left:63px;width:72px">新能源市场</div>
<div class="nav" style="left:135.5px;width:65px">厂商排名</div>
<div class="nav" style="left:201px;width:65px">市场分析</div>
<div class="foot">月度信息发布</div>
<div class="pg">7</div>
</body></html>
